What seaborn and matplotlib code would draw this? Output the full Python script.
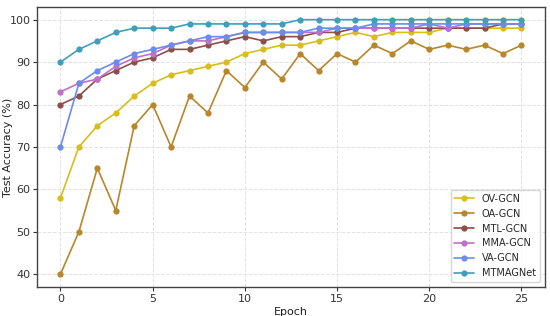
import matplotlib
matplotlib.use("Agg")
import matplotlib.pyplot as plt
import seaborn as sns
import pandas as pd

epochs = list(range(26))
ov_gcn = [58, 70, 75, 78, 82, 85, 87, 88, 89, 90, 92, 93, 94, 94, 95, 96, 97, 96, 97, 97, 97, 98, 98, 98, 98, 98]
oa_gcn = [40, 50, 65, 55, 75, 80, 70, 82, 78, 88, 84, 90, 86, 92, 88, 92, 90, 94, 92, 95, 93, 94, 93, 94, 92, 94]
mtl_gcn = [80, 82, 86, 88, 90, 91, 93, 93, 94, 95, 96, 95, 96, 96, 97, 97, 98, 98, 98, 98, 98, 98, 98, 98, 99, 99]
mma_gcn = [83, 85, 86, 89, 91, 92, 94, 95, 95, 96, 97, 97, 97, 97, 97, 98, 98, 98, 98, 98, 99, 98, 99, 99, 99, 99]
va_gcn = [70, 85, 88, 90, 92, 93, 94, 95, 96, 96, 97, 97, 97, 97, 98, 98, 98, 99, 99, 99, 99, 99, 99, 99, 99, 99]
mtmagnet = [90, 93, 95, 97, 98, 98, 98, 99, 99, 99, 99, 99, 99, 100, 100, 100, 100, 100, 100, 100, 100, 100, 100, 100, 100, 100]

models = ["OV-GCN", "OA-GCN", "MTL-GCN", "MMA-GCN", "VA-GCN", "MTMAGNet"]
series = [ov_gcn, oa_gcn, mtl_gcn, mma_gcn, va_gcn, mtmagnet]
colors = ["#d8bd1c", "#b8862b", "#8c4f4a", "#c070c8", "#6c8cec", "#3f9fba"]

rows = []
for m, vals in zip(models, series):
    for e, v in zip(epochs, vals):
        rows.append({"Epoch": e, "Test Accuracy (%)": v, "Model": m})
df = pd.DataFrame(rows)

sns.set_style("whitegrid")
plt.rcParams["font.family"] = ["DejaVu Sans"]

fig, ax = plt.subplots(figsize=(5.5, 3.16), dpi=100)
sns.lineplot(data=df, x="Epoch", y="Test Accuracy (%)", hue="Model",
             hue_order=models, palette=colors, marker="o", markersize=4.5,
             markeredgewidth=0, linewidth=1.2, ax=ax)

ax.set_xticks([0, 5, 10, 15, 20, 25])
ax.set_yticks([40, 50, 60, 70, 80, 90, 100])
ax.tick_params(labelsize=8, colors="#333333", length=3, width=0.8, pad=2, left=True, bottom=True)
ax.set_xlabel("Epoch", fontsize=8, color="#222222", labelpad=2)
ax.set_ylabel("Test Accuracy (%)", fontsize=8, color="#222222")
ax.yaxis.set_label_coords(-0.049, 0.5)
ax.grid(True, color="#e2e2e2", linewidth=0.7, linestyle="--")
for s in ax.spines.values():
    s.set_color("#444444")
    s.set_linewidth(1.0)

leg = ax.legend(loc="lower right", fontsize=7, frameon=True, title=None)
leg.get_frame().set_edgecolor("#cccccc")

fig.subplots_adjust(left=0.068, right=0.99, top=0.978, bottom=0.092)
fig.savefig("out.png", dpi=100)
